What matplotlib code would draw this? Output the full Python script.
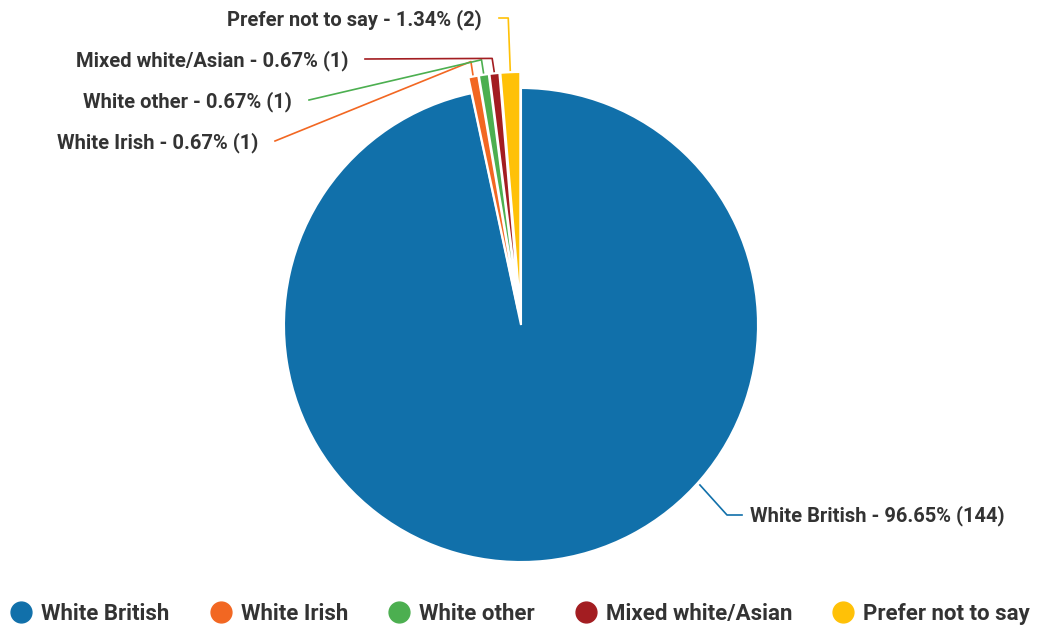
import numpy as np
import matplotlib.pyplot as plt
from matplotlib.lines import Line2D

plt.rcParams["font.family"] = ["Roboto", "DejaVu Sans"]

# Data
labels = ["White British", "White Irish", "White other", "Mixed white/Asian", "Prefer not to say"]
counts = [144, 1, 1, 1, 2]
percents = ["96.65%", "0.67%", "0.67%", "0.67%", "1.34%"]
colors = ["#1170aa", "#f26722", "#4caf50", "#a31d21", "#ffc107"]

W, H = 1037, 631
fig = plt.figure(figsize=(W / 100, H / 100), dpi=100)
ax = fig.add_axes([0, 0, 1, 1])

cx, cy = 521, H - 325
R = 237
# pie's explode offset is in data units here (pixels)
explode = [0, 16, 16, 16, 16]
wedges, _ = ax.pie(counts, colors=colors, startangle=90, counterclock=False,
                   radius=R, center=(cx, cy), explode=explode,
                   wedgeprops=dict(edgecolor="white", linewidth=1.5))
ax.set_xlim(0, W)
ax.set_ylim(0, H)
ax.set_aspect("equal")
ax.axis("off")

txt_color = "#333333"
fs = 14.5

# label layout (image pixel coords): text right end and line y for small slices
label_end_x = [None, 258, 292, 348, 482]
label_y = [515, 141, 100, 59, 18]

for i, w in enumerate(wedges):
    text = f"{labels[i]} - {percents[i]} ({counts[i]})"
    if i == 0:
        ang = np.deg2rad(90 - 131.8)
        p0 = (cx + (R + 3) * np.cos(ang), cy + (R + 3) * np.sin(ang))
        p1 = (727, H - 515)
        p2 = (742, H - 515)
        ax.plot([p0[0], p1[0], p2[0]], [p0[1], p1[1], p2[1]], color=colors[i], lw=1.2)
        ax.text(750, H - 516, text, ha="left", va="center", fontsize=fs,
                fontweight="bold", color=txt_color)
        continue
    mid = np.deg2rad((w.theta1 + w.theta2) / 2)
    r = w.r + 2
    sx = w.center[0] + r * np.cos(mid)
    sy = w.center[1] + r * np.sin(mid)
    sy_img = H - sy
    ey_img = min(label_y[i], sy_img - 13)
    ex = sx - 2
    lx = label_end_x[i] + 17
    ax.plot([sx, ex, lx], [sy, H - ey_img, H - label_y[i]], color=colors[i], lw=1.2)
    ax.text(label_end_x[i], H - label_y[i] - 2, text, ha="right", va="center",
            fontsize=fs, fontweight="bold", color=txt_color)

handles = [Line2D([], [], marker="o", linestyle="none", markersize=15,
                  markerfacecolor=c, markeredgecolor=c) for c in colors]
lfs = 16
fig.legend(handles, labels, loc="center left", bbox_to_anchor=(14.5 / W, (H - 614) / H),
           ncol=5, frameon=False, handlelength=0.6, handletextpad=0.6,
           columnspacing=2.0, borderpad=0, borderaxespad=0,
           prop=dict(family=["Roboto", "DejaVu Sans"], weight="bold", size=lfs),
           labelcolor=txt_color)

fig.savefig("out.png", dpi=100)
